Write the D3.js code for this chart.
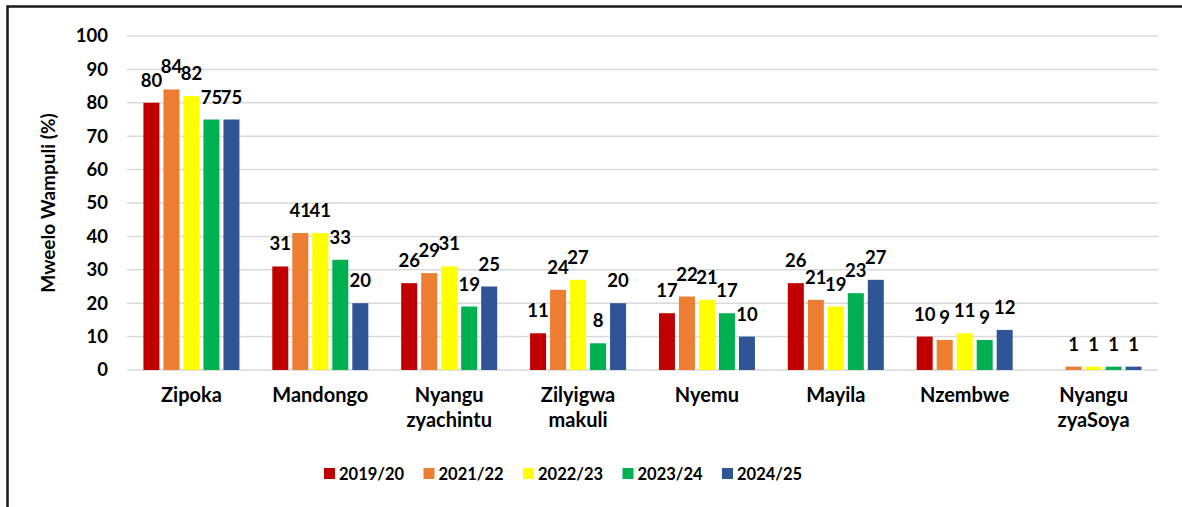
<!DOCTYPE html>
<html>
<head>
<meta charset="utf-8">
<script src="https://cdn.jsdelivr.net/npm/d3@7"></script>
<style>
  body { margin: 0; background: #fff; }
  svg text { font-family: Lato, "Open Sans", sans-serif; font-weight: 700; fill: #000; }
</style>
</head>
<body>
<div id="chart"></div>
<script>
// categories and series
const categories = [
    ['Zipoka'], ['Mandongo'], ['Nyangu', 'zyachintu'], ['Zilyigwa', 'makuli'],
    ['Nyemu'], ['Mayila'], ['Nzembwe'], ['Nyangu', 'zyaSoya']
];
const seriesNames = ['2019/20', '2021/22', '2022/23', '2023/24', '2024/25'];
const seriesColors = ['#C00000', '#ED7D31', '#FFFF00', '#00B050', '#2F5597'];

const v2019 = [80, 31, 26, 11, 17, 26, 10, null];
const v2021 = [84, 41, 29, 24, 22, 21, 9, 1];
const v2022 = [82, 41, 31, 27, 21, 19, 11, 1];
const v2023 = [75, 33, 19, 8, 17, 23, 9, 1];
const v2024 = [75, 20, 25, 20, 10, 27, 12, 1];
const seriesValues = [v2019, v2021, v2022, v2023, v2024];

const yTicks = [0, 10, 20, 30, 40, 50, 60, 70, 80, 90, 100];

const width = 1182, height = 507;
const margin = { top: 36, right: 24, bottom: 137, left: 127 };
const innerW = width - margin.left - margin.right;
const innerH = height - margin.top - margin.bottom;

const svg = d3.select('#chart').append('svg')
    .attr('width', width)
    .attr('height', height);

// outer frame
svg.append('path')
    .attr('d', `M7.5,${height + 5} L7.5,6.5 L${width + 5},6.5`)
    .attr('fill', 'none')
    .attr('stroke', '#1a1a1a')
    .attr('stroke-width', 2.5);

const chart = svg.append('g')
    .attr('transform', `translate(${margin.left},${margin.top})`);

const catKeys = categories.map(c => c.join(' '));

const x0 = d3.scaleBand()
    .domain(catKeys)
    .range([0, innerW]);

const groupW = 100;
const x1 = d3.scaleBand()
    .domain(seriesNames)
    .range([0, groupW])
    .paddingInner(0.2)
    .paddingOuter(0.1);

const y = d3.scaleLinear()
    .domain([0, 100])
    .range([innerH, 0]);

// gridlines
chart.append('g')
    .selectAll('line')
    .data(yTicks)
    .enter().append('line')
    .attr('x1', 0)
    .attr('x2', innerW)
    .attr('y1', d => y(d))
    .attr('y2', d => y(d))
    .attr('stroke', '#d9d9d9')
    .attr('stroke-width', 1.5);

// y axis labels
const yAxis = d3.axisLeft(y).tickValues(yTicks).tickSize(0).tickPadding(19);
const yAxisG = chart.append('g').call(yAxis);
yAxisG.select('.domain').remove();
yAxisG.selectAll('text')
    .style('font-size', '18.5px')
    .style('font-family', 'Lato, sans-serif')
    .style('font-weight', 700);

// x category labels
const xLabels = chart.append('g')
    .selectAll('text')
    .data(categories)
    .enter().append('text')
    .attr('x', (d, i) => x0(catKeys[i]) + x0.bandwidth() / 2)
    .attr('y', innerH + 32)
    .attr('text-anchor', 'middle')
    .style('font-size', '20px');
xLabels.selectAll('tspan')
    .data(d => d)
    .enter().append('tspan')
    .attr('x', function () { return d3.select(this.parentNode).attr('x'); })
    .attr('dy', (d, i) => i === 0 ? 0 : 25)
    .text(d => d);

// bars
const offset = (x0.bandwidth() - groupW) / 2;
const groups = chart.selectAll('.series')
    .data(seriesNames)
    .enter().append('g')
    .attr('class', 'series')
    .attr('fill', (d, i) => seriesColors[i]);

groups.selectAll('rect')
    .data((s, si) => seriesValues[si].map((v, ci) => ({ s, v, c: catKeys[ci] })).filter(d => d.v !== null))
    .enter().append('rect')
    .attr('x', d => x0(d.c) + offset + x1(d.s))
    .attr('y', d => y(d.v))
    .attr('width', x1.bandwidth())
    .attr('height', d => innerH - y(d.v));

groups.selectAll('text')
    .data((s, si) => seriesValues[si].map((v, ci) => ({ s, v, c: catKeys[ci] })).filter(d => d.v !== null))
    .enter().append('text')
    .attr('x', d => x0(d.c) + offset + x1(d.s) + x1.bandwidth() / 2)
    .attr('y', d => y(d.v) - 16)
    .attr('text-anchor', 'middle')
    .style('font-size', '18.5px')
    .text(d => d.v);

// y axis title
svg.append('text')
    .attr('transform', `translate(55,${margin.top + innerH / 2}) rotate(-90)`)
    .attr('text-anchor', 'middle')
    .style('font-size', '19px')
    .text('Mweelo Wampuli (%)');

// legend
const legend = svg.append('g')
    .attr('transform', 'translate(324,468)');
const items = legend.selectAll('g')
    .data(seriesNames)
    .enter().append('g')
    .attr('transform', (d, i) => `translate(${i * 99.5},0)`);
items.append('rect')
    .attr('width', 11)
    .attr('height', 11)
    .attr('fill', (d, i) => seriesColors[i]);
items.append('text')
    .attr('x', 15)
    .attr('y', 11.5)
    .style('font-size', '16.5px')
    .text(d => d);
</script>
</body>
</html>
